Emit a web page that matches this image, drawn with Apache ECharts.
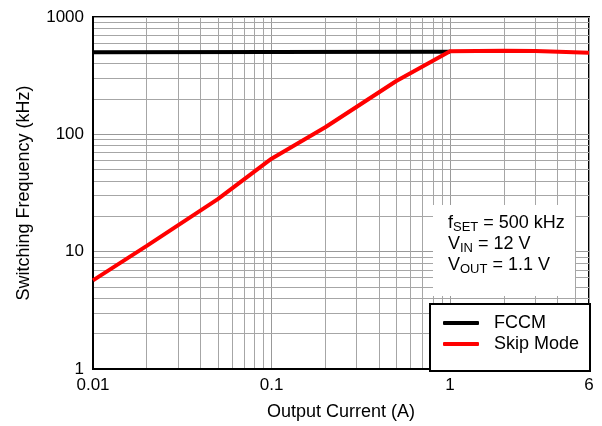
<!DOCTYPE html>
<html>
<head>
<meta charset="utf-8">
<script src="https://cdn.jsdelivr.net/npm/echarts@6/dist/echarts.min.js"></script>
<style>
html,body{margin:0;padding:0;background:#fff;}
#c{width:602px;height:426px;}
</style>
</head>
<body>
<div id="c"></div>
<script>
// Data
var currentA = [0.01, 0.02, 0.05, 0.1, 0.2, 0.5, 1, 2, 3, 6];
var skipModeKHz = [5.7, 11.2, 28, 62, 115, 285, 510, 515, 512, 495];
var fccmCurrentA = [0.01, 1];
var fccmKHz = [500, 505];
var xTickLabels = [0.01, 0.1, 1, 6];
var xMinorGrid = [0.02,0.03,0.04,0.05,0.06,0.07,0.08,0.09,0.2,0.3,0.4,0.5,0.6,0.7,0.8,0.9,2,3,4,5];
var yMinorGrid = [2,3,4,5,6,7,8,9,20,30,40,50,60,70,80,90,200,300,400,500,600,700,800,900];
var seriesNames = ['FCCM', 'Skip Mode'];

var FONT = '"Liberation Sans", Arial, sans-serif';
function pairs(xs, ys){ return xs.map(function(x,i){ return [x, ys[i]]; }); }
function fmt(v){ return String(+(+v).toPrecision(3)); }

var gridLines = xMinorGrid.map(function(v){ return {xAxis: v}; })
  .concat(yMinorGrid.map(function(v){ return {yAxis: v}; }));

var chart = echarts.init(document.getElementById('c'), null, {renderer: 'canvas'});
chart.setOption({
  animation: false,
  backgroundColor: '#fff',
  grid: {left: 93, right: 13, top: 17, bottom: 56, show: true, borderColor: '#000', borderWidth: 2, backgroundColor: 'transparent'},
  xAxis: {
    type: 'log', logBase: 10, min: 0.01, max: 6,
    name: 'Output Current (A)', nameLocation: 'middle', nameGap: 34,
    nameTextStyle: {fontFamily: FONT, fontSize: 18, color: '#000'},
    axisLine: {show: true, lineStyle: {color: '#000', width: 2}},
    axisTick: {show: false},
    axisLabel: {customValues: xTickLabels, fontFamily: FONT, fontSize: 17, color: '#000', margin: 8, formatter: fmt},
    splitLine: {show: true, lineStyle: {color: '#999', width: 1}}
  },
  yAxis: {
    type: 'log', logBase: 10, min: 1, max: 1000,
    name: 'Switching Frequency (kHz)', nameLocation: 'middle', nameGap: 60,
    nameTextStyle: {fontFamily: FONT, fontSize: 18, color: '#000'},
    axisLine: {show: true, lineStyle: {color: '#000', width: 2}},
    axisTick: {show: false},
    axisLabel: {fontFamily: FONT, fontSize: 17, color: '#000', margin: 9, formatter: fmt},
    splitLine: {show: true, lineStyle: {color: '#999', width: 1}}
  },
  legend: {
    orient: 'vertical', left: 443, top: 314, itemWidth: 36, itemHeight: 4, itemGap: 3,
    icon: 'roundRect', z: 100, padding: 0,
    textStyle: {fontFamily: FONT, fontSize: 18, color: '#000', padding: [0,0,0,10]},
    data: seriesNames
  },
  series: [
    {
      name: 'grid', type: 'line', data: [], silent: true, z: 0, zlevel: 0,
      markLine: {silent: true, symbol: ['none','none'], animation: false, z: 0,
        label: {show: false}, lineStyle: {color: '#a6a6a6', width: 1, type: 'solid'},
        emphasis: {disabled: true}, data: gridLines}
    },
    {
      name: seriesNames[0], type: 'line', data: pairs(fccmCurrentA, fccmKHz),
      showSymbol: false, lineStyle: {color: '#000', width: 4}, itemStyle: {color: '#000'}, z: 10
    },
    {
      name: seriesNames[1], type: 'line', data: pairs(currentA, skipModeKHz),
      showSymbol: false, lineStyle: {color: '#f00', width: 4}, itemStyle: {color: '#f00'}, z: 11
    }
  ],
  graphic: [
    {type: 'rect', left: 433, top: 205, shape: {width: 142, height: 91}, style: {fill: '#fff'}, z: 50},
    {type: 'rect', left: 429, top: 303, shape: {width: 160, height: 67}, style: {fill: '#fff', stroke: '#000', lineWidth: 2}, z: 50},
    {type: 'text', left: 448, top: 213, z: 60, style: {
      text: 'f{s|SET} = 500 kHz\nV{s|IN} = 12 V\nV{s|OUT} = 1.1 V',
      font: '18px ' + FONT, fill: '#000', lineHeight: 21,
      rich: {s: {fontSize: 13, fontFamily: FONT, fill: '#000', padding: [8,0,0,0], lineHeight: 21}}
    }}
  ]
});
</script>
</body>
</html>
